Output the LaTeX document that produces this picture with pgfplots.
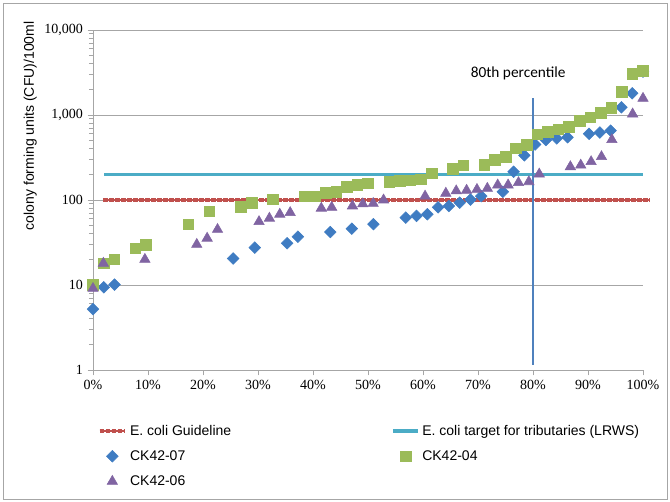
\documentclass[border=0pt]{standalone}
\usepackage{pgfplots}
\pgfplotsset{compat=1.18}
\usepackage{pgfplotstable}
\usepackage{fontspec}
\setmainfont{Liberation Sans}
\newfontfamily\axnumfont{Liberation Serif}
\newfontfamily\califont{Carlito}
\definecolor{cRed}{HTML}{C0504D}
\definecolor{cTeal}{HTML}{4BACC6}
\definecolor{cBlue}{HTML}{3F7CC2}
\definecolor{cVline}{HTML}{4F81BD}
\definecolor{cGreen}{HTML}{9BBB59}
\definecolor{cPurple}{HTML}{8064A2}
\definecolor{cGrid}{HTML}{A6A6A6}

% CK42-07 (rank index k of 0..51)
\pgfplotstableread{
k v
0 5.2
1 9.4
2 10.1
13 20.5
15 27.5
18 31
19 37
22 42
24 46
26 52
29 62
30 65
31 68
32 82
33 85
34 93
35 101
36 111
38 125
39 215
40 335
41 450
42 508
43 531
44 547
46 600
47 622
48 655
49 1231
50 1800
51 3240
}\tblBlue

% CK42-04 (rank index k of 0..52)
\pgfplotstableread{
k v
0 10
1 18
2 20
4 27
5 30
9 52
11 74
14 83
15 93
17 102
20 111
21 111
22 122
23 125
24 143
25 150
26 157
28 164
29 169
30 171
31 175
32 206
34 232
35 257
37 258
38 295
39 323
40 405
41 444
42 595
43 630
44 679
45 728
46 857
47 939
48 1065
49 1220
50 1880
51 3036
52 3320
}\tblGreen

% CK42-06 (rank index k of 0..53)
\pgfplotstableread{
k v
0 9.1
1 18
5 20
10 30
11 35.5
12 45
16 55.6
17 61
18 68
19 71
22 80
23 82
25 85
26 90
27 91
28 100
32 111
34 120
35 128
36 130
37 133
38 137
39 150
40 150
41 160
42 164
43 202
46 246
47 257
48 282
49 323
50 512
52 1027
53 1570
}\tblPurple

\begin{document}
\begin{tikzpicture}
\useasboundingbox (-69.75pt,-99pt) rectangle (432.75pt,277.5pt);
\draw[cGrid, line width=0.6pt] (-67.5pt,-96.75pt) rectangle (430.5pt,275.25pt);
\begin{axis}[
  at={(0,0)}, anchor=south west,
  scale only axis, width=412.5pt, height=255pt,
  xmin=0, xmax=100, ymode=log, ymin=1, ymax=10000,
  clip=false,
  axis lines*=left,
  axis line style={cGrid, line width=0.6pt},
  tick style={cGrid, line width=0.6pt},
  tick align=outside,
  major tick length=4pt, minor tick length=3pt,
  xtick={0,10,...,100},
  xticklabels={0\%,10\%,20\%,30\%,40\%,50\%,60\%,70\%,80\%,90\%,100\%},
  ytick={1,10,100,1000,10000},
  yticklabels={1,10,100,{1,000},{10,000}},
  xticklabel style={font=\axnumfont\fontsize{10.5}{12}\selectfont, text=black},
  yticklabel style={font=\axnumfont\fontsize{10.5}{12}\selectfont, text=black},
  ymajorgrids, yminorgrids=false,
  grid style={cGrid, line width=0.6pt},
  ylabel={colony forming units (CFU)/100ml},
  ylabel style={at={(rel axis cs:-0.114,0.718)}, anchor=center, rotate=0, font=\fontsize{10.5}{12}\selectfont},
  legend columns=2,
  legend cell align=left,
  legend image code/.code={\draw[mark repeat=2,mark phase=2,#1] plot coordinates {(0pt,0pt) (9.5pt,0pt) (19pt,0pt)};},
  legend style={at={(axis description cs:0.0,-0.145)}, anchor=north west, draw=none, fill=none,
    font=\fontsize{10.5}{12}\selectfont, row sep=6pt,
    /tikz/every even column/.append style={column sep=118pt}},
]
\addplot[cRed, line width=2.2pt, postaction={draw, cRed, line width=3.6pt, dash pattern=on 3.4pt off 1.1pt}] coordinates {(1.9,100) (101.2,100)};
\addlegendentry{E. coli Guideline}
\addplot[cTeal, line width=2.3pt] coordinates {(2,200) (100,200)};
\addlegendentry{E. coli target for tributaries (LRWS)}
\addplot[draw=cVline, line width=0.8pt, forget plot] coordinates {(80,1.15) (80,1600)};
\addplot[only marks, mark=square*, mark size=3.1pt, mark options={rotate=45, fill=cBlue, draw=cBlue}]
  table[x expr=\thisrow{k}*100/51, y=v] {\tblBlue};
\addlegendentry{CK42-07}
\addplot[only marks, mark=square*, mark size=4pt, mark options={fill=cGreen, draw=cGreen}]
  table[x expr=\thisrow{k}*100/52, y=v] {\tblGreen};
\addlegendentry{CK42-04}
\addplot[only marks, mark=triangle*, mark size=4.5pt, mark options={fill=cPurple, draw=cPurple}]
  table[x expr=\thisrow{k}*100/53, y=v] {\tblPurple};
\addlegendentry{CK42-06}
\node[font=\califont\fontsize{11.5}{13}\selectfont] at (axis cs:77.3,3120) {80th percentile};
\end{axis}
\end{tikzpicture}
\end{document}
